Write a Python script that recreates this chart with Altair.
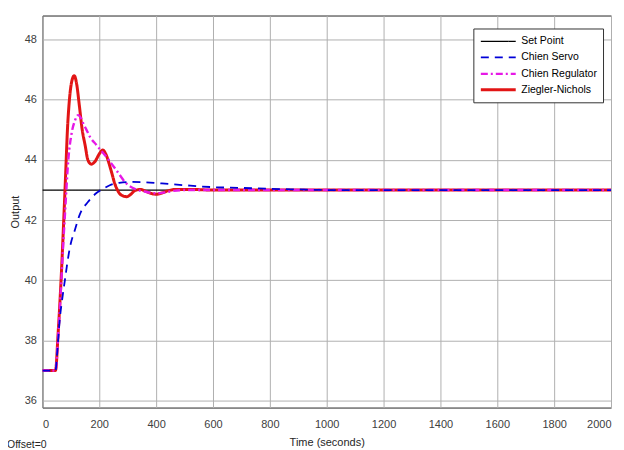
import altair as alt
import pandas as pd

# ---- data ----
series_names = ["Set Point", "Chien Servo", "Chien Regulator", "Ziegler-Nichols"]
series_colors = ["#000000", "#0000d8", "#e619e6", "#e21515"]

sp_t = [0, 2000]
sp_v = [43.0, 43.0]

zn_t = [0, 46, 55, 65, 75, 82, 88, 95, 103, 112, 120, 130, 140, 150, 160, 172, 185,
        200, 212, 225, 240, 255, 270, 285, 297, 310, 325, 345, 365, 385, 400, 420,
        440, 470, 520, 600, 2000]
zn_v = [37.0, 37.0, 38.2, 39.9, 42.0, 43.6, 45.0, 46.0, 46.6, 46.8, 46.55, 45.8, 45.0,
        44.5, 44.0, 43.86, 43.95, 44.2, 44.33, 44.15, 43.7, 43.2, 42.9, 42.8, 42.78,
        42.85, 42.98, 43.02, 42.95, 42.88, 42.86, 42.9, 42.97, 43.02, 43.02, 43.0, 43.0]

cr_t = [0, 46, 55, 65, 72, 80, 91, 103, 114, 126, 135, 144, 155, 167, 190, 225, 260,
        295, 330, 360, 400, 430, 460, 500, 2000]
cr_v = [37.0, 37.0, 38.1, 39.7, 41.0, 42.3, 44.0, 44.9, 45.3, 45.49, 45.4, 45.2, 45.0,
        44.77, 44.5, 44.1, 43.66, 43.22, 43.02, 42.95, 42.89, 42.92, 42.97, 43.0, 43.0]

cs_t = [0, 46, 52, 61, 70, 79, 88, 97, 115, 132, 160, 190, 215, 237, 270, 310, 360,
        420, 500, 590, 700, 800, 900, 1010, 2000]
cs_v = [37.0, 37.0, 37.6, 38.7, 39.4, 40.0, 40.6, 41.1, 41.7, 42.2, 42.6, 42.9, 43.05,
        43.16, 43.24, 43.27, 43.26, 43.22, 43.16, 43.1, 43.07, 43.04, 43.02, 43.0, 43.0]

x_ticks = [0, 200, 400, 600, 800, 1000, 1200, 1400, 1600, 1800, 2000]
y_ticks = [36, 38, 40, 42, 44, 46, 48]

rows = []
for name, ts, vs in [("Set Point", sp_t, sp_v), ("Chien Servo", cs_t, cs_v),
                     ("Chien Regulator", cr_t, cr_v), ("Ziegler-Nichols", zn_t, zn_v)]:
    for t, v in zip(ts, vs):
        rows.append({"series": name, "t": t, "v": v})
df = pd.DataFrame(rows)

FONT = "Liberation Sans"

legend = alt.Legend(
    title=None, orient="none", legendX=432, legendY=13,
    padding=6, fillColor="white", strokeColor="#333333",
    labelFont=FONT, labelFontSize=10.5, labelColor="#000000",
    rowPadding=3, symbolSize=144, labelOffset=27, symbolType="M-1,0H4.83",
)

base = alt.Chart(df).mark_line(clip=True, interpolate="monotone").encode(
    x=alt.X("t:Q", scale=alt.Scale(domain=[0, 2000], nice=False, zero=False),
            axis=alt.Axis(values=x_ticks, title="Time (seconds)", labelPadding=11,
                          titlePadding=7, format="d")),
    y=alt.Y("v:Q", scale=alt.Scale(domain=[35.77, 48.8], nice=False, zero=False),
            axis=alt.Axis(values=y_ticks, title="Output", labelPadding=6,
                          titlePadding=4, format="d")),
    color=alt.Color("series:N", scale=alt.Scale(domain=series_names, range=series_colors),
                    legend=legend),
    strokeDash=alt.StrokeDash("series:N",
                              scale=alt.Scale(domain=series_names,
                                              range=[[1, 0], [8, 6], [7, 3, 2, 3], [1, 0]]),
                              legend=legend),
    strokeWidth=alt.StrokeWidth("series:N",
                                scale=alt.Scale(domain=series_names, range=[1.2, 3, 3, 3]),
                                legend=legend),
    order=alt.Order("t:Q"),
)

layers = [base.transform_filter(alt.datum.series == n)
          for n in ["Set Point", "Ziegler-Nichols", "Chien Regulator", "Chien Servo"]]

note = alt.Chart(pd.DataFrame({"txt": ["Offset=0"]})).mark_text(
    align="left", baseline="middle", font=FONT, fontSize=10.5, color="#262626"
).encode(x=alt.value(-35.5), y=alt.value(431), text="txt:N")

chart = alt.layer(*layers, note).properties(
    width=570, height=393,
    autosize=alt.AutoSizeParams(type="none"),
    padding={"left": 34.5, "top": 7, "right": 5, "bottom": 42},
).configure_view(stroke="#262626", strokeWidth=1).configure_axis(
    labelFont=FONT, labelFontSize=11, labelColor="#404040",
    titleFont=FONT, titleFontSize=11, titleFontWeight="normal", titleColor="#262626",
    gridColor="#b0b0b0", gridWidth=1, ticks=False, domain=False,
)

chart.save("out.html", embed_options={"renderer": "svg", "actions": False})
